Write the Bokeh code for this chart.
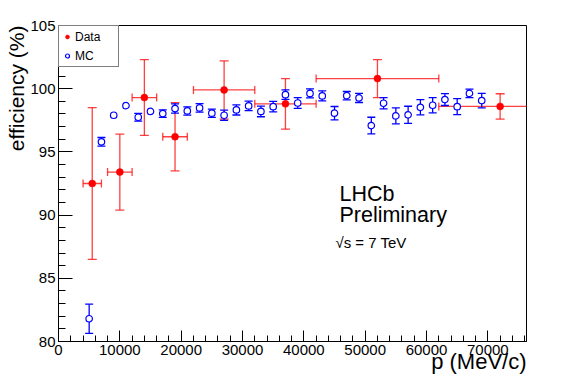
import math
from bokeh.plotting import figure
from bokeh.models import (Range1d, SingleIntervalTicker, Label, Legend, LegendItem,
                          ColumnDataSource, PrintfTickFormatter, Title)
from bokeh.embed import file_html
from bokeh.resources import INLINE

# ---- data ----
data_x = [5500, 10000, 14000, 19000, 27000, 37000, 52000, 72000]
data_xerr = [1500, 2000, 2000, 2000, 5000, 5000, 10000, 10000]
data_y = [92.5, 93.4, 99.3, 96.2, 99.9, 98.8, 100.8, 98.6]
data_yerr = [6.0, 3.0, 3.0, 2.7, 2.3, 2.0, 1.5, 1.0]

mc_x = [5000, 7000, 9000, 11000, 13000, 15000, 17000, 19000, 21000, 23000,
        25000, 27000, 29000, 31000, 33000, 35000, 37000, 39000, 41000, 43000,
        45000, 47000, 49000, 51000, 53000, 55000, 57000, 59000, 61000, 63000,
        65000, 67000, 69000]
mc_y = [81.8, 95.8, 97.9, 98.66, 97.74, 98.2, 98.03, 98.43, 98.24, 98.48,
        98.06, 97.9, 98.32, 98.64, 98.2, 98.58, 99.53, 98.87, 99.63, 99.43,
        98.06, 99.45, 99.27, 97.08, 98.85, 97.85, 97.93, 98.53, 98.69, 99.14,
        98.58, 99.63, 99.06]
mc_yerr = [1.15, 0.34, 0.15, 0.15, 0.3, 0.15, 0.3, 0.37, 0.33, 0.34,
           0.33, 0.4, 0.4, 0.38, 0.42, 0.42, 0.38, 0.42, 0.36, 0.4,
           0.53, 0.33, 0.36, 0.66, 0.45, 0.63, 0.68, 0.6, 0.6, 0.47,
           0.63, 0.33, 0.57]

x_ticks_interval = 10000
y_ticks_interval = 5
X_MIN, X_MAX = 0, 76300
Y_MIN, Y_MAX = 80, 105

FONT = "Liberation Sans"
RED = "#ff0000"
BLUE = "#0000ff"

p = figure(width=562, height=382, output_backend="svg", toolbar_location=None,
           x_range=Range1d(X_MIN, X_MAX), y_range=Range1d(Y_MIN, Y_MAX),
           min_border_left=58, min_border_right=36, min_border_top=25,
           min_border_bottom=41, title=None)
p.grid.visible = False
p.outline_line_color = "black"
p.outline_line_width = 1
p.background_fill_color = "white"
p.border_fill_color = "white"

p.xaxis.ticker = SingleIntervalTicker(interval=x_ticks_interval, num_minor_ticks=5)
p.yaxis.ticker = SingleIntervalTicker(interval=y_ticks_interval, num_minor_ticks=5)
p.xaxis.formatter = PrintfTickFormatter(format="%d")
p.yaxis.formatter = PrintfTickFormatter(format="%d")
for ax in (p.xaxis, p.yaxis):
    ax.axis_line_color = "black"
    ax.major_tick_line_color = "black"
    ax.minor_tick_line_color = "black"
    ax.major_tick_out = 0
    ax.minor_tick_out = 0
    ax.major_label_text_font = FONT
    ax.major_label_text_font_size = "15px"
    ax.major_label_text_color = "black"
    ax.major_label_standoff = 3
p.xaxis.major_tick_in = 11
p.xaxis.minor_tick_in = 6
p.yaxis.major_tick_in = 14
p.yaxis.minor_tick_in = 7

# ---- Data error bars ----
dsrc = ColumnDataSource(dict(
    x=data_x, y=data_y,
    x0=[x - e for x, e in zip(data_x, data_xerr)],
    x1=[x + e for x, e in zip(data_x, data_xerr)],
    y0=[y - e for y, e in zip(data_y, data_yerr)],
    y1=[y + e for y, e in zip(data_y, data_yerr)],
))
err_kw = dict(line_color=RED, line_width=1.3, line_alpha=0.75)
p.segment(x0="x", y0="y0", x1="x", y1="y1", source=dsrc, **err_kw)
p.segment(x0="x0", y0="y", x1="x1", y1="y", source=dsrc, **err_kw)
p.scatter(x="x", y="y0", source=dsrc, marker="dash", size=9, **err_kw)
p.scatter(x="x", y="y1", source=dsrc, marker="dash", size=9, **err_kw)
p.scatter(x="x0", y="y", source=dsrc, marker="dash", angle=math.pi / 2, size=8, **err_kw)
p.scatter(x="x1", y="y", source=dsrc, marker="dash", angle=math.pi / 2, size=8, **err_kw)

# ---- MC error bars ----
msrc = ColumnDataSource(dict(
    x=mc_x, y=mc_y,
    y0=[y - e for y, e in zip(mc_y, mc_yerr)],
    y1=[y + e for y, e in zip(mc_y, mc_yerr)],
))
p.segment(x0="x", y0="y0", x1="x", y1="y1", source=msrc, line_color=BLUE,
          line_width=1.3)
cap_x = [x for x, e in zip(mc_x, mc_yerr) if e > 0.25]
cap_lo = [y - e for y, e in zip(mc_y, mc_yerr) if e > 0.25]
cap_hi = [y + e for y, e in zip(mc_y, mc_yerr) if e > 0.25]
p.scatter(x=cap_x, y=cap_lo, marker="dash", size=8, line_color=BLUE, line_width=1.3)
p.scatter(x=cap_x, y=cap_hi, marker="dash", size=8, line_color=BLUE, line_width=1.3)

mc_r = p.scatter(x="x", y="y", source=msrc, marker="circle", size=6.5,
                 line_color=BLUE, line_width=1.2, fill_color="white")
data_r = p.scatter(x="x", y="y", source=dsrc, marker="circle", size=7,
                   line_color=RED, line_width=0.5, fill_color=RED)

# ---- Legend ----
legend = Legend(items=[LegendItem(label="Data", renderers=[data_r]),
                       LegendItem(label="MC", renderers=[mc_r])],
                location="top_left", margin=0, padding=3, spacing=4,
                glyph_width=10, glyph_height=15, label_height=15,
                label_width=40, label_standoff=3, label_text_font=FONT,
                label_text_font_size="12px", label_text_color="black",
                border_line_color="black",
                border_line_width=1, background_fill_color="white",
                background_fill_alpha=1)
p.add_layout(legend)

# ---- Texts ----
txt_kw = dict(text_font=FONT, text_color="black", text_baseline="alphabetic")
p.add_layout(Label(x=45800, y=91.7, text="LHCb", text_font_size="21.5px", **txt_kw))
p.add_layout(Label(x=45800, y=89.98, text="Preliminary", text_font_size="21.5px", **txt_kw))
p.add_layout(Label(x=45150, y=87.87, text="\u221as = 7 TeV", text_font_size="15px", **txt_kw))

# axis titles
p.add_layout(Title(text="p (MeV/c)", align="right", text_font=FONT,
                   text_font_size="22px", text_font_style="normal",
                   text_color="black", standoff=-22, offset=0), "below")
p.add_layout(Title(text="efficiency (%)", align="right", text_font=FONT,
                   text_font_size="21px", text_font_style="normal",
                   text_color="black", standoff=0, offset=0), "left")

open("out.html", "w").write(file_html(p, INLINE))
